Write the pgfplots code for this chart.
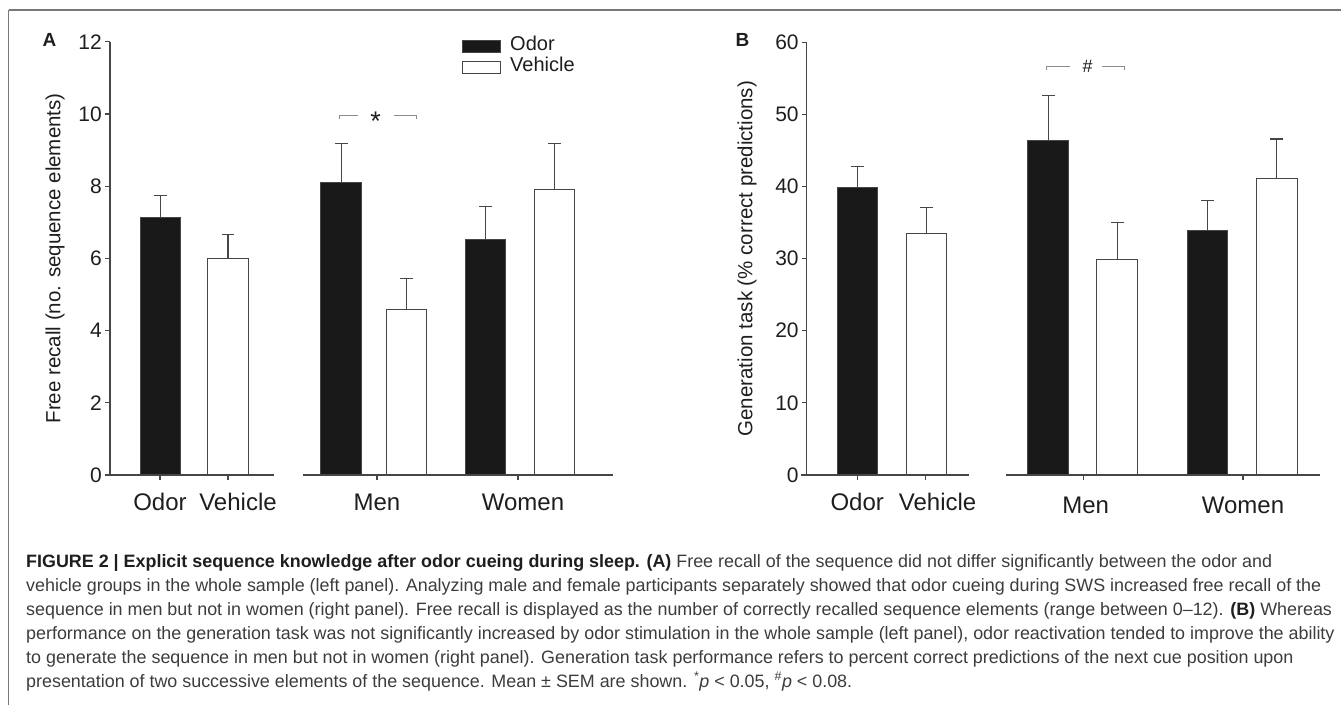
\documentclass[border=0pt]{standalone}
\usepackage{fontspec}
\setmainfont{Liberation Sans}
\usepackage{pgfplots}
\pgfplotsset{compat=1.18}
\definecolor{axgray}{RGB}{70,70,70}
\definecolor{barblack}{RGB}{25,25,25}
\definecolor{brgray}{RGB}{140,140,140}
\definecolor{framegray}{RGB}{120,120,120}
\definecolor{captxt}{RGB}{60,60,60}
\definecolor{txt}{RGB}{30,30,30}

\pgfplotsset{
 panel/.style={
  scale only axis, clip=false,
  axis x line*=bottom, axis y line*=left,
  x axis line style={draw=none},
  y axis line style={axgray, line width=1.2pt},
  tick align=outside, major tick length=5pt,
  tick style={axgray, line width=1.2pt},
  ymin=0,
  /pgf/number format/assume math mode=true,
  yticklabel style={font=\fontsize{21}{21}\selectfont, text=txt, inner xsep=3pt},
  xticklabel style={font=\fontsize{24}{24}\selectfont, text=txt, anchor=base, yshift=-30pt},
  ylabel style={font=\fontsize{20.5}{20.5}\selectfont, text=txt, anchor=center},
  legend image code/.code={\draw[#1] (0pt,-6.2pt) rectangle (38.5pt,6.2pt);},
 },
 odorbar/.style={ybar, bar shift=0pt, bar width=40.6pt, fill=barblack, draw=axgray, line width=1pt,
   error bars/.cd, y dir=plus, y explicit, error mark=|, error bar style={axgray, line width=1.2pt},
   error mark options={axgray, line width=1.2pt, mark size=6.4pt}},
 vehbar/.style={ybar, bar shift=0pt, bar width=40.6pt, fill=white, draw=axgray, line width=1pt,
   error bars/.cd, y dir=plus, y explicit, error mark=|, error bar style={axgray, line width=1.2pt},
   error mark options={axgray, line width=1.2pt, mark size=6.4pt}},
}

\begin{document}
\begin{tikzpicture}
\useasboundingbox (0,0) rectangle (1341pt,705pt);
% frame
\draw[framegray, line width=1.3pt] (8.5pt,0pt) -- (8.5pt,695pt);
\draw[framegray, line width=1.8pt] (8.5pt,695pt) -- (1341pt,695pt);

% ---------------- Panel A ----------------
\begin{axis}[panel,
  at={(110pt,230pt)}, anchor=south west,
  width=503pt, height=433.3pt,
  xmin=110, xmax=613, ymax=12,
  ytick={0,2,4,6,8,10,12},
  xtick={160,228,377,518},
  xticklabels={Odor,\hspace*{20pt}Vehicle,Men,\hspace*{10pt}Women},
  ylabel={Free recall (no. sequence elements)},
  ylabel style={at={(axis description cs:-0.1093,0.5)}},
  legend style={at={(axis cs:461.5,12.16)}, anchor=north west, draw=none, fill=none,
    inner sep=0pt, font=\fontsize{20}{20}\selectfont, text=txt, row sep=0pt,
    nodes={inner sep=0pt, text height=14.5pt, text depth=6.5pt},
    /tikz/every odd column/.append style={column sep=9pt}},
  legend cell align=left,
]
\addplot[odorbar] coordinates {(160.4,7.13) +- (0,0.61) (341.2,8.11) +- (0,1.08) (485.3,6.52) +- (0,0.92)};
\addlegendentry{Odor}
\addplot[vehbar] coordinates {(228,6.00) +- (0,0.65) (406.6,4.59) +- (0,0.86) (554.5,7.90) +- (0,1.27)};
\addlegendentry{Vehicle}
% broken x axis
\draw[axgray, line width=1.2pt] (axis cs:104.7,0) -- (axis cs:273.5,0);
\draw[axgray, line width=1.2pt] (axis cs:302.6,0) -- (axis cs:613,0);
% significance
\draw[brgray, line width=1pt] (axis cs:339,9.85) -- (axis cs:339,9.95) -- (axis cs:358,9.95);
\draw[brgray, line width=1pt] (axis cs:394,9.95) -- (axis cs:416.7,9.95) -- (axis cs:416.7,9.85);
\node[text=txt, yshift=-5pt] at (axis cs:375.5,9.95) {\fontsize{27}{27}\selectfont *};
\end{axis}
\node[anchor=base west, inner sep=0pt, text=txt] at (42.5pt,658.3pt) {\fontsize{19}{19}\selectfont\bfseries A};

% ---------------- Panel B ----------------
\begin{axis}[panel,
  at={(806.8pt,230pt)}, anchor=south west,
  width=512.8pt, height=432.7pt,
  xmin=806.8, xmax=1319.6, ymax=60,
  ytick={0,10,20,30,40,50,60},
  xtick={857.2,925.6,1083.7,1243},
  xticklabels={Odor,\hspace*{24pt}Vehicle,\raisebox{-3pt}{\hspace*{4pt}Men},\raisebox{-3pt}{Women}},
  ylabel={Generation task (\% correct predictions)},
  ylabel style={at={(axis description cs:-0.1166,0.5)}},
]
\addplot[odorbar] coordinates {(857.3,39.80) +- (0,2.96) (1048.2,46.32) +- (0,6.30) (1207.6,33.84) +- (0,4.26)};
\addplot[vehbar] coordinates {(926.4,33.52) +- (0,3.55) (1117.2,29.92) +- (0,5.08) (1276.7,41.15) +- (0,5.45)};
\draw[axgray, line width=1.2pt] (axis cs:801,0) -- (axis cs:969,0);
\draw[axgray, line width=1.2pt] (axis cs:1005.9,0) -- (axis cs:1319.6,0);
\draw[brgray, line width=1pt] (axis cs:1046,56.15) -- (axis cs:1046,56.6) -- (axis cs:1069.6,56.6);
\draw[brgray, line width=1pt] (axis cs:1101.6,56.6) -- (axis cs:1124.8,56.6) -- (axis cs:1124.8,56.15);
\node[text=txt] at (axis cs:1087.5,56.6) {\fontsize{18}{18}\selectfont\#};
\end{axis}
\node[anchor=base west, inner sep=0pt, text=txt] at (735.5pt,658.3pt) {\fontsize{19}{19}\selectfont\bfseries B};

% ---------------- Caption ----------------
\begin{scope}[every node/.style={anchor=base west, inner sep=0pt, text=captxt}]
\node at (26pt,138pt) {\fontsize{17.9}{17.9}\selectfont{\bfseries\color{txt}FIGURE 2 | Explicit sequence knowledge after odor cueing during sleep. (A)} Free recall of the sequence did not differ significantly between the odor and};
\node at (26pt,114pt) {\fontsize{17.9}{17.9}\selectfont vehicle groups in the whole sample (left panel). Analyzing male and female participants separately showed that odor cueing during SWS increased free recall of the};
\node at (26pt,90pt) {\fontsize{17.9}{17.9}\selectfont sequence in men but not in women (right panel). Free recall is displayed as the number of correctly recalled sequence elements (range between 0–12). {\bfseries\color{txt}(B)} Whereas};
\node at (26pt,66pt) {\fontsize{17.9}{17.9}\selectfont performance on the generation task was not significantly increased by odor stimulation in the whole sample (left panel), odor reactivation tended to improve the ability};
\node at (26pt,42pt) {\fontsize{17.9}{17.9}\selectfont to generate the sequence in men but not in women (right panel). Generation task performance refers to percent correct predictions of the next cue position upon};
\node at (26pt,18pt) {\fontsize{17.9}{17.9}\selectfont presentation of two successive elements of the sequence. Mean ± SEM are shown. \textsuperscript{*}\textit{p} < 0.05, \textsuperscript{\#}\textit{p} < 0.08.};
\end{scope}
\end{tikzpicture}
\end{document}
